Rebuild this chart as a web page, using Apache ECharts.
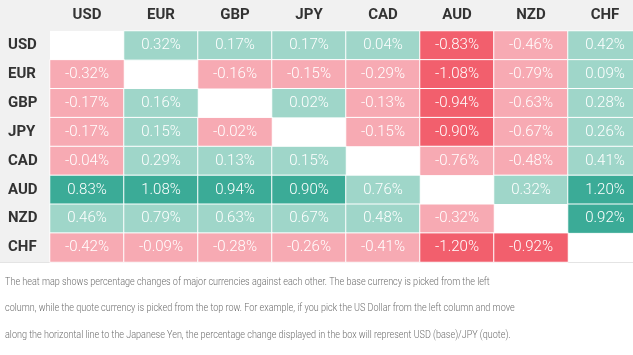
<!DOCTYPE html>
<html><head><meta charset="utf-8">
<script src="https://cdn.jsdelivr.net/npm/echarts@6/dist/echarts.min.js"></script>
<style>html,body{margin:0;padding:0;background:#fff}#c{width:633px;height:355px}</style>
</head><body><div id="c"></div>
<script>
const currencies = ['USD','EUR','GBP','JPY','CAD','AUD','NZD','CHF'];
// rows = base currency, columns = quote currency (null = diagonal)
const rowUSD = [null, 0.32, 0.17, 0.17, 0.04, -0.83, -0.46, 0.42];
const rowEUR = [-0.32, null, -0.16, -0.15, -0.29, -1.08, -0.79, 0.09];
const rowGBP = [-0.17, 0.16, null, 0.02, -0.13, -0.94, -0.63, 0.28];
const rowJPY = [-0.17, 0.15, -0.02, null, -0.15, -0.90, -0.67, 0.26];
const rowCAD = [-0.04, 0.29, 0.13, 0.15, null, -0.76, -0.48, 0.41];
const rowAUD = [0.83, 1.08, 0.94, 0.90, 0.76, null, 0.32, 1.20];
const rowNZD = [0.46, 0.79, 0.63, 0.67, 0.48, -0.32, null, 0.92];
const rowCHF = [-0.42, -0.09, -0.28, -0.26, -0.41, -1.20, -0.92, null];
const rows = [rowUSD, rowEUR, rowGBP, rowJPY, rowCAD, rowAUD, rowNZD, rowCHF];
const noteLines = [
 'The heat map shows percentage changes of major currencies against each other. The base currency is picked from the left',
 'column, while the quote currency is picked from the top row. For example, if you pick the US Dollar from the left column and move',
 'along the horizontal line to the Japanese Yen, the percentage change displayed in the box will represent USD (base)/JPY (quote).'
];

const data = [];
rows.forEach((r, yi) => r.forEach((v, xi) => { if (v !== null) data.push([xi, yi, v]); }));

const chart = echarts.init(document.getElementById('c'), null, {renderer:'canvas'});
const graphics = [
  {type:'rect', shape:{x:0,y:0,width:633,height:31}, style:{fill:'#f1f1f1'}, z:-10},
  {type:'rect', shape:{x:0,y:31,width:50,height:231}, style:{fill:'#f1f1f1'}, z:-10},
  {type:'line', shape:{x1:0,y1:262.5,x2:633,y2:262.5}, style:{stroke:'#e4e4e4',lineWidth:1}, z:-10}
];
noteLines.forEach((t, i) => graphics.push({
  type:'text', x:5, y:277 + i*26.5, scaleX:0.905,
  style:{text:t, fill:'#6e6e6e', font:'300 10px Roboto'}
}));

chart.setOption({
  animation:false,
  backgroundColor:'#fff',
  grid:{left:50, top:31, width:592, height:231, show:true, backgroundColor:'#fff', borderWidth:0, outerBoundsMode:'none', containLabel:false},
  xAxis:{type:'category', data:currencies, position:'top',
    axisLine:{show:false}, axisTick:{show:false}, splitLine:{show:false},
    axisLabel:{color:'#333', fontFamily:'Roboto', fontWeight:'bold', fontSize:15, margin:8}},
  yAxis:{type:'category', data:currencies, inverse:true,
    axisLine:{show:false}, axisTick:{show:false}, splitLine:{show:false},
    axisLabel:{color:'#333', fontFamily:'Roboto', fontWeight:'bold', fontSize:15, align:'left', margin:42}},
  visualMap:{type:'piecewise', show:false, dimension:2,
    pieces:[
      {lt:-0.8, color:'#f25f6d'},
      {gte:-0.8, lt:0, color:'#f7aab3'},
      {gte:0, lt:0.8, color:'#9fd6c9'},
      {gte:0.8, color:'#3bab97'}
    ]},
  graphic:graphics,
  series:[{type:'heatmap', data:data,
    itemStyle:{borderColor:'#fff', borderWidth:1},
    emphasis:{disabled:true},
    label:{show:true, color:'#fff', fontFamily:'Roboto', fontWeight:300, fontSize:15,
      formatter:p => p.value[2].toFixed(2) + '%'}}]
});
</script></body></html>
